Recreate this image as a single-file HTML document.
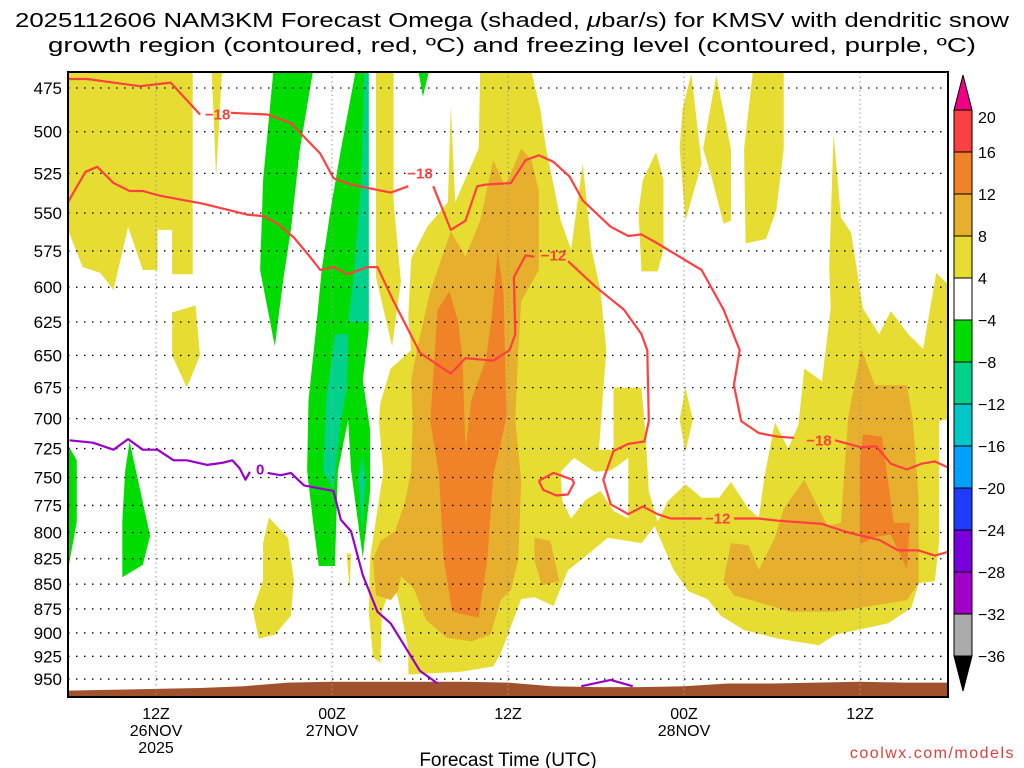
<!DOCTYPE html>
<html><head><meta charset="utf-8"><style>
html,body{margin:0;padding:0;background:#fff;width:1024px;height:768px;overflow:hidden}
svg{display:block;font-family:"Liberation Sans",sans-serif}
</style></head><body>
<svg id="chart" width="1024" height="768" viewBox="0 0 1024 768" xmlns="http://www.w3.org/2000/svg">
<defs><clipPath id="plotclip"><rect x="68" y="72" width="880" height="625"/></clipPath></defs>
<text x="512" y="27" font-size="20" text-anchor="middle" textLength="994" lengthAdjust="spacingAndGlyphs">2025112606 NAM3KM Forecast Omega (shaded, <tspan font-style="italic">μ</tspan>bar/s) for KMSV with dendritic snow</text>
<text x="512" y="52" font-size="20" text-anchor="middle" textLength="928" lengthAdjust="spacingAndGlyphs">growth region (contoured, red, ºC) and freezing level (contoured, purple, ºC)</text>
<g id="plot" clip-path="url(#plotclip)"></g>
<g id="axes"></g>
<g id="cbar"></g>
<text x="508" y="766" font-size="19" text-anchor="middle">Forecast Time (UTC)</text>
<text x="1015" y="758" font-size="16" fill="#e0403a" text-anchor="end" letter-spacing="1.5">coolwx.com/models</text>
</svg>
<script>
// ---- data (hours since 06Z 26NOV, pressure hPa) ----
const pressureTicks=[475,500,525,550,575,600,625,650,675,700,725,750,775,800,825,850,875,900,925,950];
const timeTickHours=[6,18,30,42,54];
const timeTickLabels=[["12Z","26NOV","2025"],["00Z","27NOV"],["12Z"],["00Z","28NOV"],["12Z"]];
const cbarLabels=["20","16","12","8","4","−4","−8","−12","−16","−20","−24","−28","−32","−36"];
const cbarColors=["#fa4040","#f08228","#e6af2d","#e6dc32","#ffffff","#00dc00","#00d28c","#00c8c8","#00a0ff","#1e3cff","#7800dc","#a000c8","#aaaaaa"];
const yellowAreas=[
 [[0,466],[8.5,466],[8.5,591],[7.1,591],[7.1,561],[6.1,561],[6.1,588],[5.1,588],[4.1,559],[3.1,602],[2.2,590],[1.0,586],[0,561]],
 [[9.8,466],[10.5,466],[10.1,527]],
 [[7.1,618],[8.7,613],[9.0,650],[8.1,675],[7.1,650]],
 [[21.0,466],[22.2,466],[22.2,543],[22.7,596],[22.1,643],[21.0,593],[21.0,543]],
 [[19.0,820],[19.3,820],[19.2,855]],
 [[13.7,786],[15.0,805],[15.4,846],[15.2,882],[14.1,902],[13.0,906],[12.6,876],[13.3,846],[13.3,810]],
 [[21.3,687],[22.0,660],[23.4,646],[23.2,621],[23.4,580],[24.5,559],[25.9,543],[26.1,485],[26.4,543],[28.0,510],[28.1,466],[31.6,466],[32.2,487],[32.6,510],[33.6,555],[34.3,574],[35.1,519],[35.7,574],[36.3,602],[36.7,646],[36.2,726],[37.2,726],[37.2,675],[39.1,675],[39.4,717],[39.6,762],[40.2,790],[40.9,771],[42.1,756],[43.2,768],[44.4,768],[45.2,754],[46.4,778],[47.1,786],[47.5,748],[48.2,703],[49.1,725],[49.8,705],[50.2,660],[51.4,670],[52.0,615],[51.9,586],[52.2,501],[52.7,553],[53.4,563],[54.2,615],[55.3,634],[56.1,617],[57.3,634],[58.3,645],[59.2,590],[60.1,599],[60.1,700],[59.4,702],[59.4,809],[59.1,847],[58.0,849],[57.5,874],[55.9,890],[52.3,902],[51.2,913],[48.4,906],[46.1,897],[44.5,882],[43.6,865],[42.3,857],[41.3,836],[40.0,794],[39.1,810],[36.8,805],[35.0,826],[34.1,836],[33.1,872],[31.8,863],[30.9,865],[29.5,922],[29.0,936],[26.8,942],[23.2,945],[23.2,917],[22.7,878],[22.2,845],[21.4,878],[21.3,932],[20.8,926],[20.5,878],[20.6,824],[21.5,745],[21.2,702]],
 [[42.5,467],[43.2,519],[42.1,555],[41.7,510],[41.9,487]],
 [[44.2,468],[45.2,510],[45.2,555],[44.7,557],[43.9,528],[43.3,510]],
 [[46.7,466],[48.8,466],[48.8,510],[48.3,548],[47.6,567],[46.2,570],[46.1,510]],
 [[40.1,512],[40.6,529],[40.6,574],[40.2,589],[39.1,589],[38.9,549],[39.2,529]],
 [[42.1,675],[42.6,701],[42.1,728],[41.7,701]]
];
const whiteHoles=[
 [[33.6,745],[34.5,733],[35.2,739],[35.9,745],[37.0,744],[38.2,733],[38.2,787],[37.2,780],[36.3,762],[35.3,770],[34.3,787],[33.7,771]]
];
const lightOrangeAreas=[
 [[24.7,603],[26.1,562],[27.1,579],[28.1,555],[29.0,517],[29.8,533],[30.9,510],[31.6,517],[32.1,536],[32.1,588],[30.9,610],[30.7,646],[30.5,701],[30.9,753],[30.7,826],[30.2,856],[29.5,866],[28.8,902],[27.5,909],[25.8,905],[24.4,886],[23.6,855],[22.7,842],[22.5,857],[22.0,866],[21.0,861],[20.8,826],[21.3,808],[22.3,799],[23.0,771],[23.4,744],[23.5,701],[23.4,669],[23.9,640]],
 [[31.8,805],[32.9,808],[33.5,847],[32.3,851],[31.8,826]],
 [[54.1,645],[53.2,698],[52.7,791],[51.8,794],[50.2,752],[48.8,778],[48.2,805],[47.1,836],[46.4,812],[45.2,810],[44.7,846],[45.4,861],[49.3,878],[52.3,878],[57.2,866],[58.0,849],[58.0,769],[57.6,701],[57.2,673],[55.0,673]]
];
const orangeAreas=[
 [[25.2,616],[26.0,603],[26.6,624],[26.9,653],[27.1,726],[27.5,685],[28.5,653],[28.9,620],[29.3,575],[29.7,605],[29.9,699],[29.0,748],[28.6,824],[28.0,884],[26.2,878],[25.6,824],[25.3,748],[24.7,702]],
 [[54.2,713],[55.5,715],[56.3,791],[57.4,791],[57.2,835],[56.1,802],[55.1,804],[54.0,811],[54.0,735]]
];
const greenAreas=[
 [[14.0,466],[16.7,466],[15.8,511],[15.2,561],[14.7,593],[14.1,643],[13.1,588],[13.3,529]],
 [[19.6,466],[20.5,466],[20.5,631],[20.1,669],[20.6,709],[20.6,762],[20.1,824],[19.3,744],[19.1,701],[18.4,744],[18.2,832],[17.1,832],[16.7,789],[16.3,744],[16.4,685],[16.9,631],[17.3,588],[17.9,548],[18.6,511]],
 [[0,722],[0.6,735],[0.6,790],[0,836]],
 [[4.2,719],[5.6,803],[5.1,831],[3.7,843],[3.7,789],[3.9,744]],
 [[23.9,466],[24.6,466],[24.2,480]]
];
const tealAreas=[
 [[20.2,466],[20.5,466],[20.5,625],[19.1,625],[19.5,590],[20.0,530]],
 [[18.2,634],[19.1,634],[19.0,677],[18.6,701],[18.1,760],[17.4,744],[17.6,685]],
 [[20.1,730],[20.3,752],[20.1,798],[19.8,752]]
];
const groundHours=[0,3,6,9,12,15,18,21,24,27,30,33,36,39,42,45,48,51,54,57,60];
const groundPressure=[963,962,961,960,958,954,953,953,953,953,954,958,959,959,958,955,955,954,953,954,954];
const redContours=[
 [[0,470],[1.3,470],[4.9,474],[7.0,472],[9.0,490]],
 [[11.1,489],[13.6,490],[15.2,495],[17.2,513],[18.1,528],[19.3,532],[22.0,537],[23.2,533]],
 [[24.9,533],[26.1,561],[27.1,555],[27.9,533],[28.5,532],[30.2,531],[31.2,517],[32.1,514],[33.1,518],[34.2,527],[35.1,542],[37.0,559],[38.2,565],[39.1,564],[40.2,570],[43.2,588],[44.7,616],[45.8,646],[45.4,673],[45.9,702],[47.1,712],[48.4,715],[49.5,716]],
 [[52.3,718],[54.1,724],[55.1,723],[56.1,738],[57.2,743],[58.2,738],[59.1,736],[60.1,742]],
 [[0,543],[1.2,524],[2.0,521],[3.1,531],[4.2,536],[5.1,536],[6.3,539],[9.2,544],[12.2,551],[13.3,552],[14.3,557],[15.4,566],[16.5,579],[17.2,588],[18.1,586],[19.1,591],[20.4,586],[21.1,586],[22.2,610],[24.0,648],[26.1,664],[27.1,652],[29.0,654],[30.1,646],[30.5,634],[30.4,593],[31.2,578],[31.8,579]],
 [[34.1,582],[35.9,599],[37.9,616],[39.1,634],[39.5,646],[39.6,702],[39.3,719],[38.2,721],[37.2,727],[36.5,752],[37.0,774],[38.2,783],[39.2,776],[40.2,783],[41.1,787],[43.2,787]],
 [[45.4,787],[47.1,787],[48.4,789],[51.4,792],[53.2,800],[55.3,807],[56.6,817],[58.0,817],[59.1,822],[60.1,818]],
 [[32.1,753],[33.1,746],[34.4,752],[34.5,755],[34.1,765],[33.3,766],[32.4,761],[32.1,753]]
];
const redLabelText=["−18","−18","−12","−12","−18"];
const redLabelPos=[[10.2,490],[24.0,525],[33.1,578],[44.3,787],[51.2,718]];
const purpleContours=[
 [[0.1,718],[1.7,720],[3.1,726],[4.1,717],[5.1,726],[6.1,726],[7.2,735],[8.1,735],[9.5,739],[10.6,737],[11.2,735],[11.7,742],[12.1,752],[12.4,745]],
 [[13.6,746],[14.5,748],[15.2,746],[16.1,757],[18.1,762],[18.6,788],[19.3,799],[20.1,841],[21.1,878],[22.0,890],[24.0,941],[25.2,955]],
 [[35.0,958],[37.0,951],[38.5,958]]
];
const purpleLabelText=["0"];
const purpleLabelPos=[[13.1,743]];

// ---- scales ----
const X0=68,X1=948,HMAX=60;
function xs(h){return X0+h*(X1-X0)/HMAX;}
function ys(p){return 88+852.7*Math.log(p/475);}
const NS="http://www.w3.org/2000/svg";
function mk(tag,parent,attrs){const e=document.createElementNS(NS,tag);for(const k in attrs)e.setAttribute(k,attrs[k]);parent.appendChild(e);return e;}
function pts(arr){return arr.map(d=>xs(d[0]).toFixed(1)+","+ys(d[1]).toFixed(1)).join(" ");}
const plot=document.getElementById("plot");
const axes=document.getElementById("axes");
const cbar=document.getElementById("cbar");

function fillSet(list,color,name){
 list.forEach(poly=>{
  const e=mk("polygon",plot,{points:pts(poly),fill:color});
  
  
 });
}
fillSet(yellowAreas,"#e6dc32","omega-4-8-area");
fillSet(whiteHoles,"#ffffff","omega-neutral-area");
fillSet(lightOrangeAreas,"#e6af2d","omega-8-12-area");
fillSet(orangeAreas,"#f08228","omega-12-16-area");
fillSet(greenAreas,"#00dc00","omega-neg4-neg8-area");
fillSet(tealAreas,"#00d28c","omega-neg8-neg12-area");

// ground
{
 let d="M"+xs(groundHours[0])+","+697;
 groundHours.forEach((h,i)=>{d+=" L"+xs(h).toFixed(1)+","+ys(groundPressure[i]).toFixed(1);});
 d+=" L"+xs(groundHours[groundHours.length-1])+",697 Z";
 const g=mk("path",plot,{d:d,fill:"#a0522d"});
 
 
}
// gridlines
pressureTicks.forEach(p=>{
 const l=mk("line",plot,{x1:X0,x2:X1,y1:ys(p),y2:ys(p),stroke:"#000","stroke-width":1.3,"stroke-dasharray":"1.5 6.5"});
 
 
});
timeTickHours.forEach(h=>{
 const l=mk("line",plot,{x1:xs(h),x2:xs(h),y1:72,y2:697,stroke:"#999","stroke-width":1,"stroke-dasharray":"1.5 3"});
 
 
});
// contours
redContours.forEach(c=>{
 const e=mk("polyline",plot,{points:pts(c),fill:"none",stroke:"#ff4040","stroke-width":2.2,"stroke-linejoin":"round"});
 
 
});
redLabelPos.forEach((d,i)=>{
 const t=mk("text",plot,{x:xs(d[0]),y:ys(d[1])+5,"font-size":15,"font-weight":"bold",fill:"#ff4040","text-anchor":"middle"});
 t.textContent=redLabelText[i];
 
 
});
purpleContours.forEach(c=>{
 const e=mk("polyline",plot,{points:pts(c),fill:"none",stroke:"#9900cc","stroke-width":2.2,"stroke-linejoin":"round"});
 
 
});
purpleLabelPos.forEach((d,i)=>{
 const t=mk("text",plot,{x:xs(d[0]),y:ys(d[1])+5,"font-size":15,"font-weight":"bold",fill:"#9900cc","text-anchor":"middle"});
 t.textContent=purpleLabelText[i];
 
 
});
// border
{
 const b=mk("rect",axes,{x:X0,y:72,width:X1-X0,height:625,fill:"none",stroke:"#000","stroke-width":2});
 
 
}
// y tick labels
pressureTicks.forEach(p=>{
 const t=mk("text",axes,{x:62,y:ys(p)+6,"font-size":17,"text-anchor":"end"});
 t.textContent=String(p);
 
 
});
// x tick labels
timeTickHours.forEach((h,i)=>{
 timeTickLabels[i].forEach((s,j)=>{
  const t=mk("text",axes,{x:xs(h),y:719+j*17,"font-size":16,"text-anchor":"middle"});
  t.textContent=s;
  
  
 });
});
// colorbar
{
 const top=110,bh=42,cx=954,cw=18;
 cbarColors.forEach((c,i)=>{
  const r=mk("rect",cbar,{x:cx,y:top+i*bh,width:cw,height:bh,fill:c,stroke:"#000","stroke-width":1});
  
  
 });
 const t1=mk("polygon",cbar,{points:`${cx},${top} ${cx+cw},${top} ${cx+cw/2},75`,fill:"#f00082",stroke:"#000","stroke-width":1});
 
 
 const bot=top+cbarColors.length*bh;
 const t2=mk("polygon",cbar,{points:`${cx},${bot} ${cx+cw},${bot} ${cx+cw/2},${bot+35}`,fill:"#000",stroke:"#000","stroke-width":1});
 
 
 cbarLabels.forEach((s,i)=>{
  const t=mk("text",cbar,{x:978,y:top+i*bh+(i===0?13:6),"font-size":16});
  t.textContent=s;
  
  
 });
}
</script>
</body></html>
